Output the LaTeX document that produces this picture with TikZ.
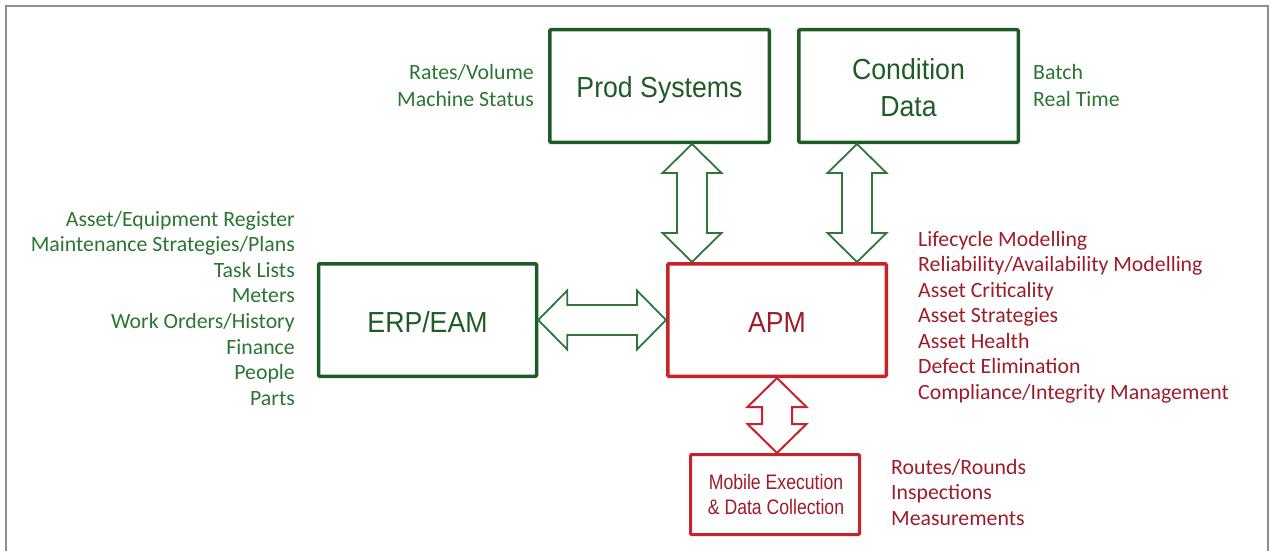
\documentclass[tikz,border=0pt]{standalone}
\usepackage{fontspec}
\usepackage{graphicx}
\setmainfont{Liberation Sans}
\newfontfamily\sidefont{Carlito}
\usetikzlibrary{calc}

\definecolor{boxgreen}{HTML}{1F5C25}
\definecolor{txtgreen}{HTML}{2B7531}
\definecolor{arrgreen}{HTML}{2F7638}
\definecolor{boxred}{HTML}{C8232B}
\definecolor{txtred}{HTML}{9E1C29}
\definecolor{framegray}{HTML}{8E8E8E}

% vertical block double arrow between an upper and a lower anchor (x taken from the upper one)
\newcommand\vlink[3][]{%
  \draw[#1] let \p1=(#2), \p2=(#3) in
    (\x1,\y1) -- (\x1+29.5pt,\y1-29pt) -- (\x1+15pt,\y1-29pt)
    -- (\x1+15pt,\y2+29pt) -- (\x1+29.5pt,\y2+29pt) -- (\x1,\y2)
    -- (\x1-29.5pt,\y2+29pt) -- (\x1-15pt,\y2+29pt)
    -- (\x1-15pt,\y1-29pt) -- (\x1-29.5pt,\y1-29pt) -- cycle;}
% horizontal block double arrow between a left and a right anchor (y taken from the left one)
\newcommand\hlink[3][]{%
  \draw[#1] let \p1=(#2), \p2=(#3) in
    (\x1,\y1) -- (\x1+29pt,\y1+29.5pt) -- (\x1+29pt,\y1+15pt)
    -- (\x2-29pt,\y1+15pt) -- (\x2-29pt,\y1+29.5pt) -- (\x2,\y1)
    -- (\x2-29pt,\y1-29.5pt) -- (\x2-29pt,\y1-15pt)
    -- (\x1+29pt,\y1-15pt) -- (\x1+29pt,\y1-29.5pt) -- cycle;}

\begin{document}
\begin{tikzpicture}[x=1pt,y=-1pt,
  sysbox/.style={draw=boxgreen, line width=3.5pt, rounded corners=1pt, inner sep=0pt},
  apmbox/.style={sysbox, draw=boxred},
  title/.style={font=\fontsize{29}{34}\selectfont, anchor=base, inner sep=0pt},
  smalltitle/.style={font=\fontsize{21}{25}\selectfont, anchor=base, inner sep=0pt, text=txtred},
  side/.style={font=\sidefont\fontsize{21.8}{26}\selectfont, inner sep=0pt},
  glink/.style={draw=arrgreen, line width=1.8pt, fill=white, line join=miter},
  rlink/.style={draw=boxred, line width=2pt, fill=white, line join=miter}]

\useasboundingbox (0,0) rectangle (1270,551);
\draw[framegray, line width=2pt] (6,570) -- (6,6) -- (1268,6) -- (1268,570);

% boxes
\node[sysbox, minimum width=219.5pt, minimum height=112.5pt] (prod) at (659.5,86) {};
\node[sysbox, minimum width=219.5pt, minimum height=112.5pt] (cond) at (908.5,86) {};
\node[sysbox, minimum width=218pt, minimum height=112.5pt] (erp) at (427.5,320) {};
\node[apmbox, minimum width=218.5pt, minimum height=112.5pt] (apm) at (777,320) {};
\node[apmbox, line width=3pt, minimum width=169pt, minimum height=80pt] (mob) at (775,494.5) {};

% box titles
\node[title, text=boxgreen] (prodT) at (659.5,98) {\scalebox{0.92}[1]{Prod Systems}};
\node[title, text=boxgreen] (condT1) at (908.5,80) {\scalebox{0.92}[1]{Condition}};
\node[title, text=boxgreen] (condT2) at (908.5,117) {\scalebox{0.92}[1]{Data}};
\node[title, text=boxgreen] (erpT) at (427.5,332) {\scalebox{0.92}[1]{ERP/EAM}};
\node[title, text=txtred] (apmT) at (777,332) {\scalebox{0.92}[1]{APM}};
\node[smalltitle] (mobT1) at (776,489) {\scalebox{0.84}[1]{Mobile Execution}};
\node[smalltitle] (mobT2) at (776,514) {\scalebox{0.84}[1]{\& Data Collection}};

% connectors
\vlink[glink]{[xshift=32.5pt]prod.south}{apm.north}
\vlink[glink]{[xshift=-51.5pt]cond.south}{apm.north}
\hlink[glink]{erp.east}{apm.west}
\vlink[rlink]{apm.south}{mob.north}

% side lists
\node[side, text=txtgreen, anchor=base east] (ps1) at (534,80) {Rates/Volume};
\node[side, text=txtgreen, anchor=base east] (ps2) at (534,106.5) {Machine Status};
\node[side, text=txtgreen, anchor=base west] (cd1) at (1033,80) {Batch};
\node[side, text=txtgreen, anchor=base west] (cd2) at (1033,106.5) {Real Time};

\foreach \t [count=\i] in {Asset/Equipment Register, Maintenance Strategies/Plans,
    Task Lists, Meters, Work Orders/History, Finance, People, Parts}
  \node[side, text=txtgreen, anchor=base east] (erpl\i) at (295,{226+25.6*(\i-1)}) {\t};

\foreach \t [count=\i] in {Lifecycle Modelling, Reliability/Availability Modelling,
    Asset Criticality, Asset Strategies, Asset Health, Defect Elimination,
    Compliance/Integrity Management}
  \node[side, text=txtred, anchor=base west] (apml\i) at (918,{246+25.5*(\i-1)}) {\t};

\foreach \t [count=\i] in {Routes/Rounds, Inspections, Measurements}
  \node[side, text=txtred, anchor=base west] (mobl\i) at (891,{474+25.5*(\i-1)}) {\t};

\end{tikzpicture}
\end{document}
